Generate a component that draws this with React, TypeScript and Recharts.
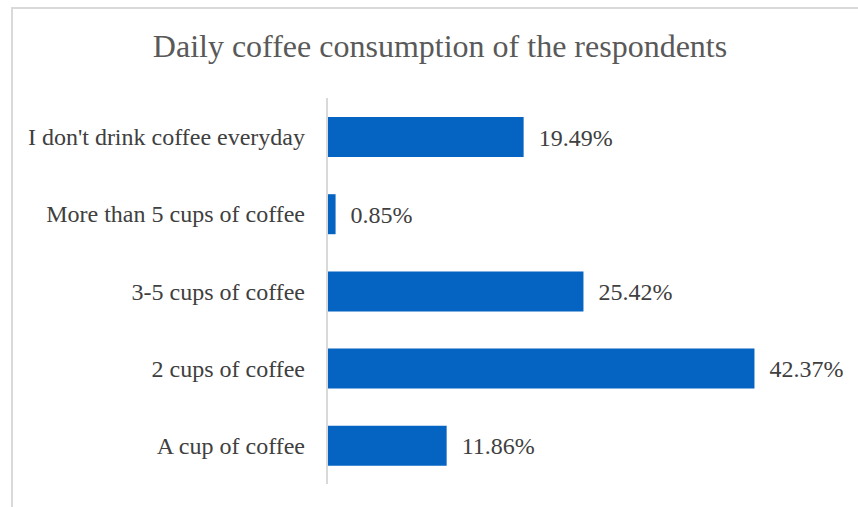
import React from "react";
import { BarChart, Bar, XAxis, YAxis, LabelList } from "recharts";

const categories = [
  "I don't drink coffee everyday",
  "More than 5 cups of coffee",
  "3-5 cups of coffee",
  "2 cups of coffee",
  "A cup of coffee",
];
const shares = [19.49, 0.85, 25.42, 42.37, 11.86];

const data = categories.map((label, i) => ({ label, share: shares[i] }));

const FONT = "'Liberation Serif', 'Times New Roman', serif";

const ValueLabel = (props: any) => {
  const { x, y, width, height, value } = props;
  return (
    <text
      x={Number(x) + Number(width) + 15}
      y={Number(y) + Number(height) / 2}
      dy="0.355em"
      textAnchor="start"
      fill="#404040"
      fontSize={24}
      fontFamily={FONT}
    >
      {`${Number(value).toFixed(2)}%`}
    </text>
  );
};

export default function App() {
  return (
    <div style={{ position: "absolute", left: 0, top: 0, width: 858, height: 507, background: "#fff", overflow: "hidden" }}>
      <div
        style={{
          position: "absolute",
          left: 11,
          top: 7,
          width: 870,
          height: 520,
          border: "2px solid #d9d9d9",
          boxSizing: "border-box",
        }}
      />
      <div
        style={{
          position: "absolute",
          left: 0,
          width: 880,
          top: 27,
          textAlign: "center",
          fontFamily: FONT,
          fontSize: 32,
          color: "#595959",
          lineHeight: "38px",
        }}
      >
        Daily coffee consumption of the respondents
      </div>
      <div style={{ position: "absolute", left: 0, top: 0 }}>
        <BarChart
          width={858}
          height={507}
          layout="vertical"
          data={data}
          margin={{ top: 98, right: 77, bottom: 23, left: 0 }}
          barSize={40}
        >
          <XAxis type="number" domain={[0, 45]} hide />
          <YAxis
            type="category"
            dataKey="label"
            width={327}
            tickLine={false}
            tickMargin={16}
            axisLine={{ stroke: "#d9d9d9", strokeWidth: 2 }}
            tick={{ fill: "#404040", fontSize: 24, fontFamily: FONT }}
            interval={0}
          />
          <Bar dataKey="share" fill="#0563C1" isAnimationActive={false}>
            <LabelList dataKey="share" content={<ValueLabel />} />
          </Bar>
        </BarChart>
      </div>
    </div>
  );
}
